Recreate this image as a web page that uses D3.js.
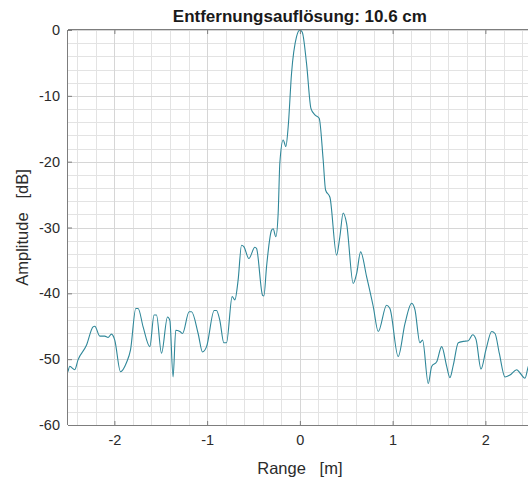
<!DOCTYPE html>
<html>
<head>
<meta charset="utf-8">
<script src="https://cdn.jsdelivr.net/npm/d3@7"></script>
<style>
  html, body { margin: 0; padding: 0; background: #ffffff; }
  svg { display: block; }
  text { font-family: "Liberation Sans", Arial, Helvetica, sans-serif; }
</style>
</head>
<body>
<svg id="chart" width="528" height="483"></svg>
<script>
// Range profile (point target response)
const rangeM = [
  -2.500, -2.481, -2.427, -2.392, -2.301, -2.230, -2.211, -2.157, -2.104, -2.068,
  -2.031, -1.996, -1.934, -1.869, -1.826, -1.769, -1.744, -1.690, -1.618, -1.572,
  -1.546, -1.492, -1.427, -1.402, -1.367, -1.338, -1.294, -1.265, -1.194, -1.168,
  -1.097, -1.050, -1.006, -0.924, -0.899, -0.863, -0.820, -0.791, -0.730, -0.701,
  -0.666, -0.629, -0.604, -0.550, -0.485, -0.467, -0.402, -0.388, -0.359, -0.305,
  -0.288, -0.259, -0.234, -0.216, -0.180, -0.151, -0.126, -0.090, -0.036, 0.000,
   0.025,  0.072,  0.119,  0.162,  0.208,  0.251,  0.277,  0.324,  0.396,  0.431,
   0.467,  0.504,  0.575,  0.612,  0.655,  0.720,  0.791,  0.845,  0.935,  0.971,
   1.060,  1.133,  1.205,  1.241,  1.294,  1.323,  1.384,  1.421,  1.475,  1.529,
   1.583,  1.618,  1.654,  1.708,  1.762,  1.816,  1.863,  1.899,  1.953,  2.006,
   2.068,  2.104,  2.150,  2.211,  2.265,  2.338,  2.373,  2.427,  2.463,  2.500
];
const amplitudeDb = [
  -51.9, -51.1, -51.6, -50.1, -47.9, -45.1, -45.0, -46.5, -46.5, -46.7,
  -46.2, -47.1, -51.9, -50.5, -48.6, -42.3, -42.3, -45.1, -48.1, -43.3,
  -43.3, -49.1, -43.6, -44.1, -52.7, -45.6, -45.8, -46.1, -42.8, -42.8,
  -46.1, -48.9, -48.1, -42.6, -42.6, -44.1, -47.5, -47.5, -40.5, -41.0,
  -38.0, -32.7, -32.9, -34.7, -33.0, -33.2, -40.3, -40.4, -35.9, -30.4,
  -30.2, -31.4, -27.8, -20.2, -16.7, -17.7, -14.7,  -6.6,  -1.0,   0.0,
   -0.3,  -5.1, -11.9, -12.9, -13.4, -19.7, -24.3, -25.4, -34.2, -31.4,
  -27.8, -29.4, -38.5, -37.0, -33.7, -37.5, -42.0, -45.8, -41.8, -42.3,
  -49.6, -44.6, -41.5, -42.5, -47.5, -47.1, -53.7, -51.1, -50.4, -48.1,
  -51.1, -52.8, -50.9, -47.5, -47.3, -47.2, -46.3, -47.0, -51.5, -48.6,
  -45.8, -46.1, -49.1, -52.7, -52.4, -51.6, -52.1, -52.9, -51.1, -50.3
];

const xTicks = [-2, -1, 0, 1, 2];
const yTicks = [-60, -50, -40, -30, -20, -10, 0];
const xMinorStep = 0.2;
const yMinorStep = 2;

const titleText = "Entfernungsauflösung: 10.6 cm";
const xLabelText = "Range   [m]";
const yLabelText = "Amplitude   [dB]";

// Layout
const plot = { left: 68, top: 30, right: 531.75, bottom: 425 };

const svg = d3.select("#chart");
svg.append("rect").attr("width", 528).attr("height", 483).attr("fill", "#ffffff");

const x = d3.scaleLinear().domain([-2.5, 2.5]).range([plot.left, plot.right]);
const y = d3.scaleLinear().domain([-60, 0]).range([plot.bottom, plot.top]);

// Minor grid
const xMinor = d3.range(-2.4, 2.5, xMinorStep).map(v => +v.toFixed(2)).filter(v => !xTicks.includes(v));
const yMinor = d3.range(-58, 0, yMinorStep).filter(v => !yTicks.includes(v));

const grid = svg.append("g").attr("shape-rendering", "crispEdges");
grid.selectAll("line.xminor").data(xMinor).join("line")
  .attr("x1", d => Math.round(x(d)) + 0.5).attr("x2", d => Math.round(x(d)) + 0.5)
  .attr("y1", plot.top).attr("y2", plot.bottom)
  .attr("stroke", "#e3e3e3").attr("stroke-width", 1);
grid.selectAll("line.yminor").data(yMinor).join("line")
  .attr("y1", d => Math.round(y(d)) + 0.5).attr("y2", d => Math.round(y(d)) + 0.5)
  .attr("x1", plot.left).attr("x2", plot.right)
  .attr("stroke", "#e3e3e3").attr("stroke-width", 1);

// Major grid
grid.selectAll("line.xmajor").data(xTicks).join("line")
  .attr("x1", d => Math.round(x(d)) + 0.5).attr("x2", d => Math.round(x(d)) + 0.5)
  .attr("y1", plot.top).attr("y2", plot.bottom)
  .attr("stroke", "#d6d6d6").attr("stroke-width", 1);
grid.selectAll("line.ymajor").data(yTicks).join("line")
  .attr("y1", d => Math.round(y(d)) + 0.5).attr("y2", d => Math.round(y(d)) + 0.5)
  .attr("x1", plot.left).attr("x2", plot.right)
  .attr("stroke", "#d6d6d6").attr("stroke-width", 1);

// Data line
svg.append("clipPath").attr("id", "plotClip")
  .append("rect")
  .attr("x", plot.left).attr("y", plot.top - 1)
  .attr("width", plot.right - plot.left).attr("height", plot.bottom - plot.top + 1);

const points = rangeM.map((r, i) => [r, amplitudeDb[i]]);
const line = d3.line()
  .x(d => x(d[0]))
  .y(d => y(d[1]))
  .curve(d3.curveMonotoneX);

svg.append("path")
  .datum(points)
  .attr("clip-path", "url(#plotClip)")
  .attr("fill", "none")
  .attr("stroke", "#2f8799")
  .attr("stroke-width", 1.1)
  .attr("stroke-linejoin", "round")
  .attr("d", line);

// Axes (box with inward ticks)
const axisColor = "#7d7d7d";
const tickLen = 4;
const plainNumber = d => String(d);

const xAxisBottom = d3.axisBottom(x).tickValues(xTicks).tickSize(-tickLen).tickPadding(10)
  .tickFormat(plainNumber);
const xAxisTop = d3.axisTop(x).tickValues(xTicks).tickSize(-tickLen).tickFormat("");
const yAxisLeft = d3.axisLeft(y).tickValues(yTicks).tickSize(-tickLen).tickPadding(8)
  .tickFormat(plainNumber);

function styleAxis(g) {
  g.select(".domain").attr("stroke", axisColor).attr("stroke-width", 1);
  g.selectAll(".tick line").attr("stroke", axisColor);
  g.selectAll(".tick text")
    .attr("fill", "#2b2b2b")
    .style("font-size", "14.5px")
    .style("font-family", "\"Liberation Sans\", Arial, sans-serif");
}

svg.append("g")
  .attr("transform", `translate(0,${plot.bottom})`)
  .call(xAxisBottom)
  .call(g => g.select(".domain").attr("d", `M${plot.left},0.5H${plot.right}`))
  .call(styleAxis);

svg.append("g")
  .attr("transform", `translate(0,${plot.top})`)
  .call(xAxisTop)
  .call(g => g.select(".domain").attr("d", `M${plot.left},-0.5H${plot.right}`))
  .call(styleAxis);

svg.append("g")
  .attr("transform", `translate(${plot.left},0)`)
  .call(yAxisLeft)
  .call(g => g.select(".domain").attr("d", `M-0.5,${plot.top}V${plot.bottom}`))
  .call(styleAxis);

// Title and axis labels
svg.append("text")
  .attr("x", x(0))
  .attr("y", 22)
  .attr("text-anchor", "middle")
  .attr("fill", "#1a1a1a")
  .style("font-size", "17px")
  .style("font-weight", "bold")
  .text(titleText);

svg.append("text")
  .attr("x", x(0))
  .attr("y", 474)
  .attr("text-anchor", "middle")
  .attr("fill", "#2b2b2b")
  .style("font-size", "16.5px")
  .style("white-space", "pre")
  .attr("xml:space", "preserve")
  .text(xLabelText);

svg.append("text")
  .attr("transform", `translate(28,${(plot.top + plot.bottom) / 2}) rotate(-90)`)
  .attr("text-anchor", "middle")
  .attr("fill", "#2b2b2b")
  .style("font-size", "16.5px")
  .style("white-space", "pre")
  .attr("xml:space", "preserve")
  .text(yLabelText);
</script>
</body>
</html>
